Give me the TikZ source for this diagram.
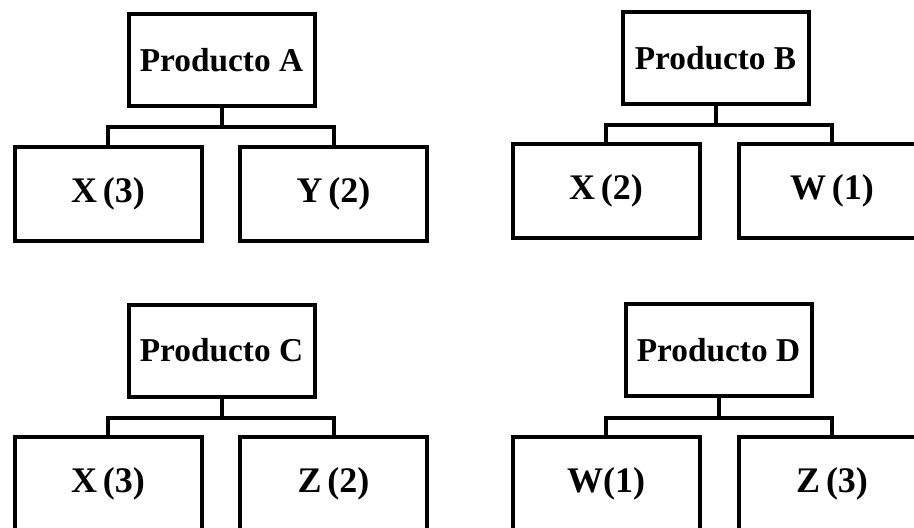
\documentclass[tikz,border=0pt]{standalone}
\usepackage{fontspec}
\setmainfont{Liberation Serif}
\begin{document}
\begin{tikzpicture}[x=0.75pt,y=-0.75pt,
  parentbox/.style={draw=black,line width=3pt,fill=white,inner sep=0pt,
    minimum width=139.5pt,minimum height=69pt,
    font=\bfseries\fontsize{25}{28}\selectfont},
  childbox/.style={draw=black,line width=3pt,fill=white,inner sep=0pt,
    minimum width=140.25pt,minimum height=70.5pt,
    font=\bfseries\fontsize{27}{30}\selectfont},
  link/.style={draw=black,line width=3pt}]
\useasboundingbox (0,0) rectangle (914,528);
\fill[white] (0,0) rectangle (914,528);
\clip (0,0) rectangle (914,528);
% Tree A
\node[parentbox] (A) at (221.5,60.5) {Producto A};
\node[childbox] (AX) at (108,193.5) {X\,(3)};
\node[childbox] (AY) at (333.5,193.5) {Y\,(2)};
\coordinate (busA) at (221.5,127);
\draw[link] (A.south) -- (busA);
\draw[link] (AX.north) |- (busA) -| (AY.north);
% Tree B
\node[parentbox] (B) at (715.5,58) {Producto B};
\node[childbox] (BX) at (606,190.5) {X\,(2)};
\node[childbox] (BW) at (832,190.5) {W\,(1)};
\coordinate (busB) at (715.5,125);
\draw[link] (B.south) -- (busB);
\draw[link] (BX.north) |- (busB) -| (BW.north);
% Tree C
\node[parentbox] (C) at (221.5,350.5) {Producto C};
\node[childbox] (CX) at (108,483.5) {X\,(3)};
\node[childbox] (CZ) at (333.5,483.5) {Z\,(2)};
\coordinate (busC) at (221.5,418);
\draw[link] (C.south) -- (busC);
\draw[link] (CX.north) |- (busC) -| (CZ.north);
% Tree D
\node[parentbox] (D) at (718.5,350) {Producto D};
\node[childbox] (DW) at (606,483.5) {W(1)};
\node[childbox] (DZ) at (832,483.5) {Z\,(3)};
\coordinate (busD) at (718.5,418);
\draw[link] (D.south) -- (busD);
\draw[link] (DW.north) |- (busD) -| (DZ.north);
\end{tikzpicture}
\end{document}
